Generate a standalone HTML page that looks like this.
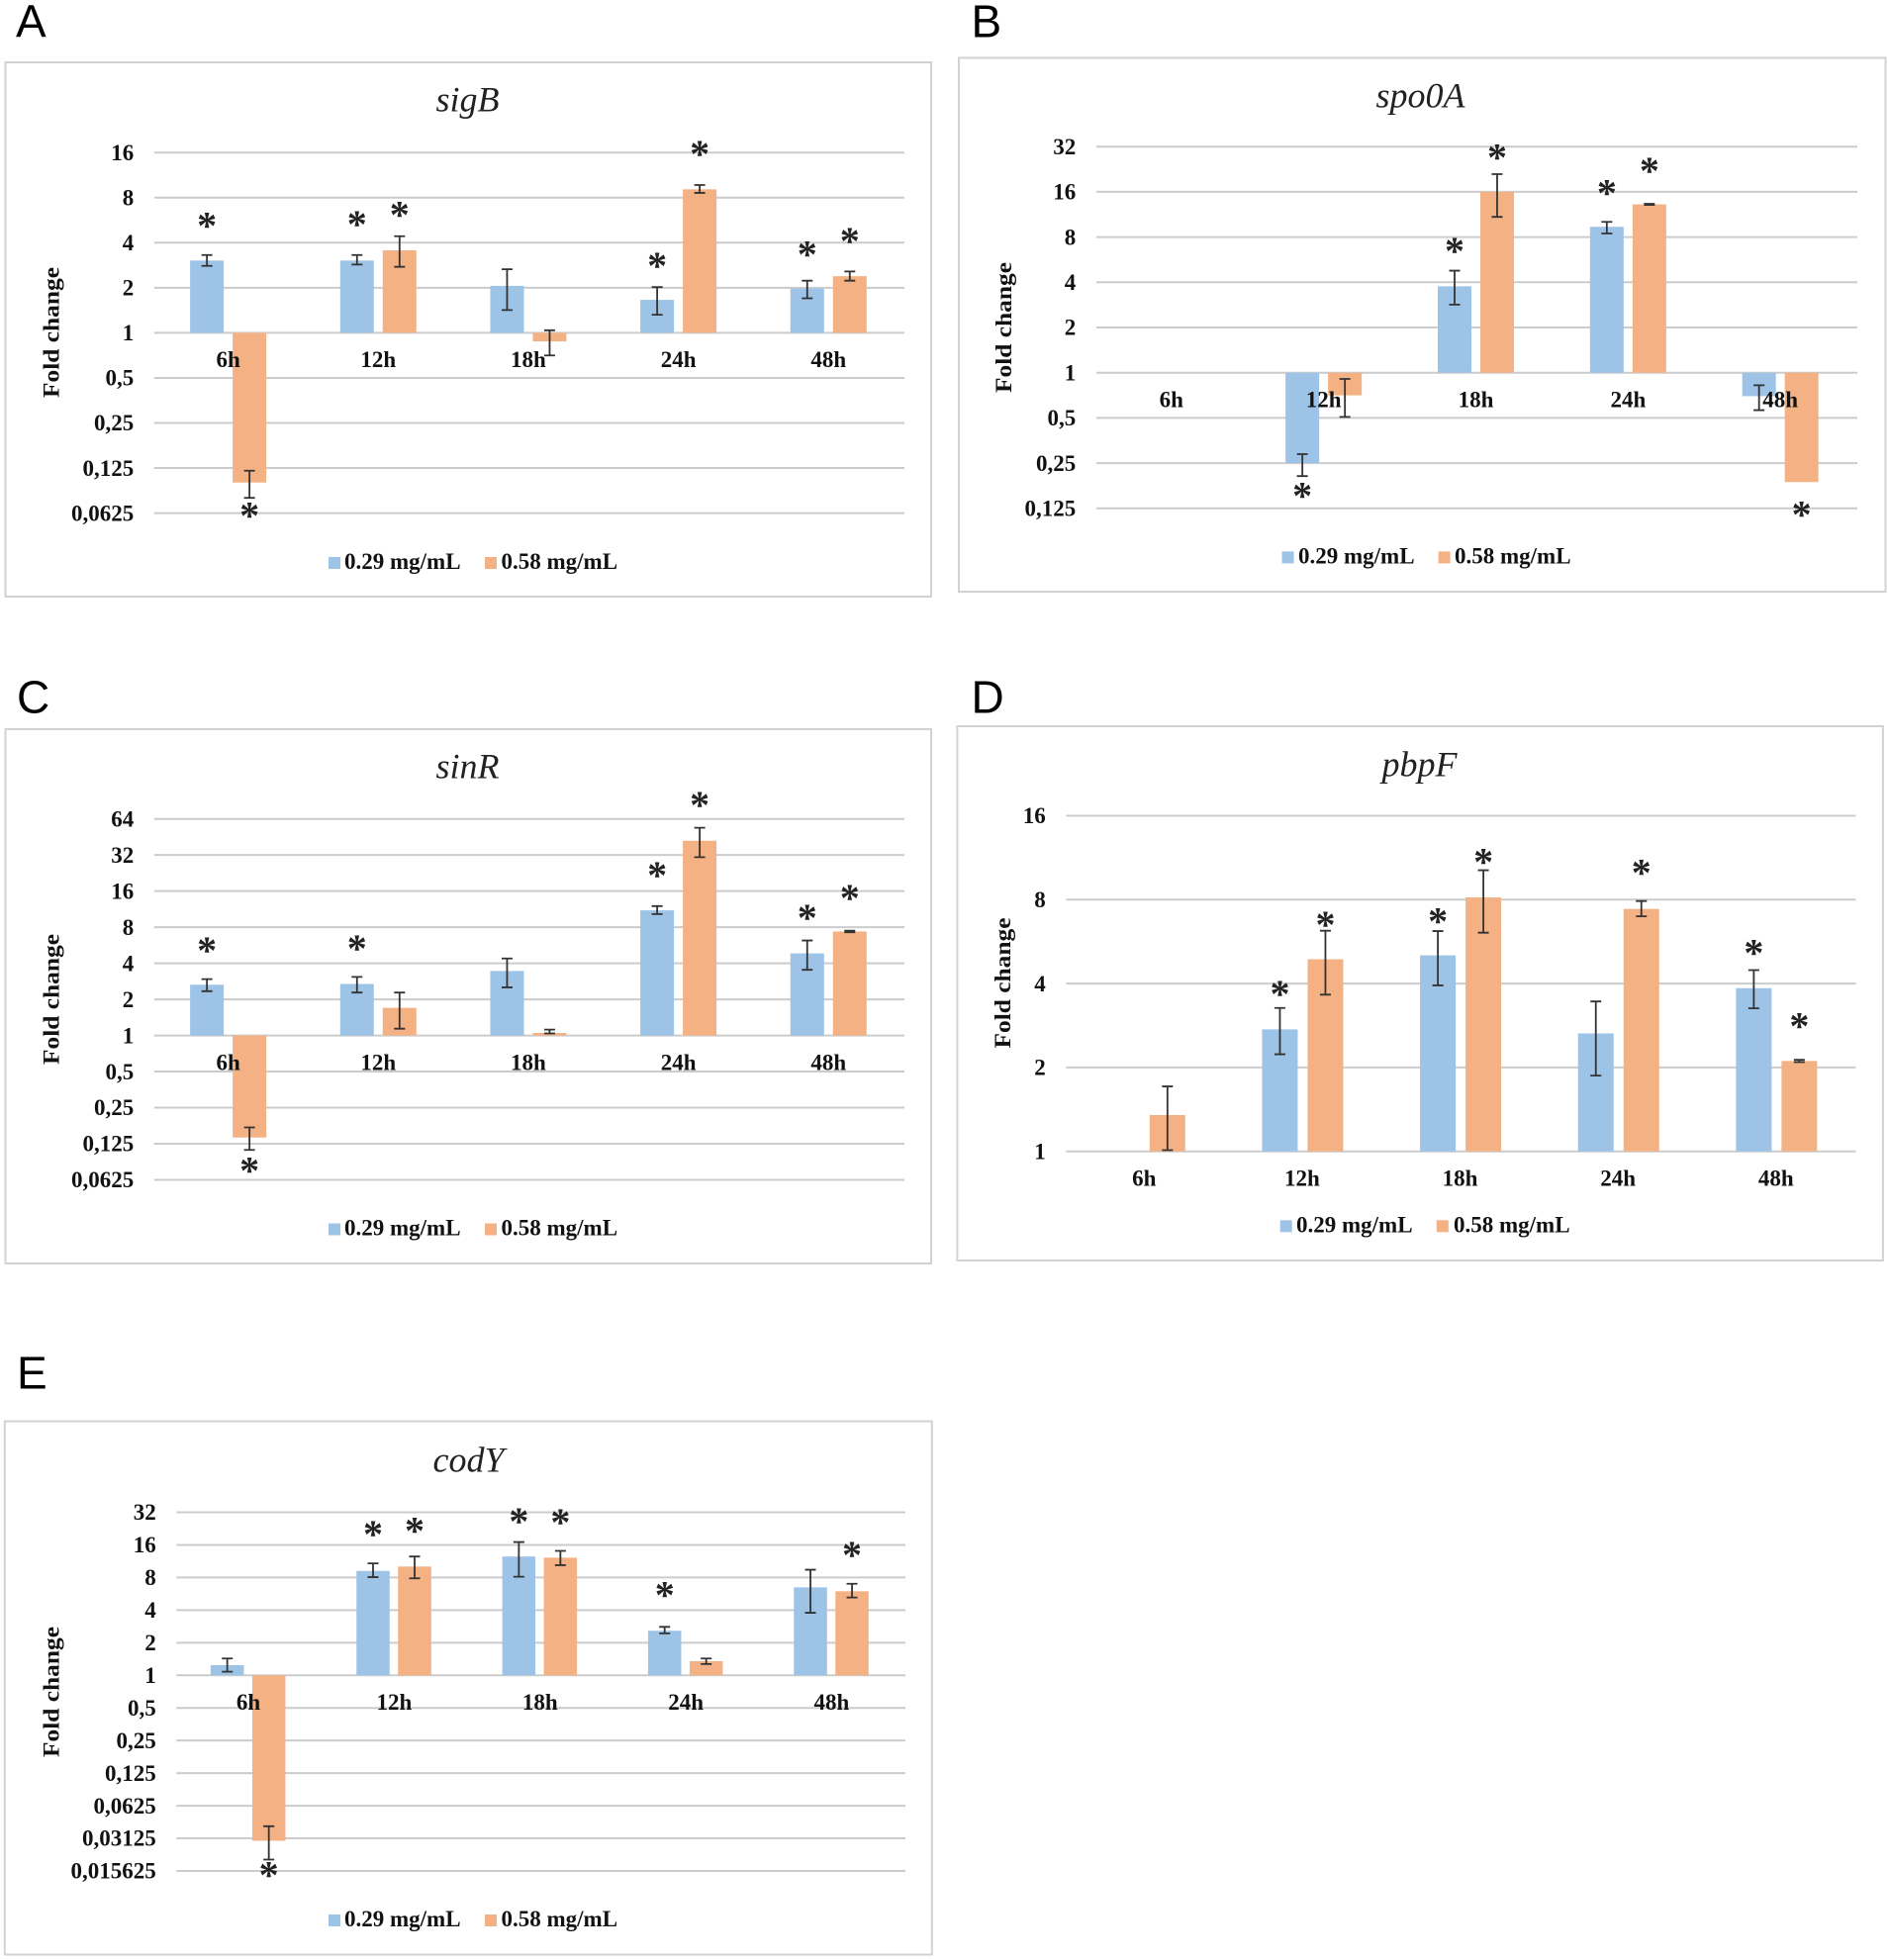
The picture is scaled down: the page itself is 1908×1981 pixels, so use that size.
<!DOCTYPE html>
<html lang="en">
<head>
<meta charset="utf-8">
<title>Fold change of gene expression</title>
<style>
html,body{margin:0;padding:0;background:#fff}
svg{display:block}
text{font-family:"Liberation Serif",serif;fill:#111}
.tick,.cat,.leg{font-weight:bold;font-size:23px}
.ttl{font-style:italic;font-size:36px;fill:#222}
.yt{font-weight:bold;font-size:23px}
.letter{font-family:"Liberation Sans",sans-serif;font-size:46px;fill:#000}
.star{font-weight:bold;font-size:40px;fill:#222}
</style>
</head>
<body>
<svg id="fig" width="1908" height="1981" viewBox="0 0 1908 1981" xmlns="http://www.w3.org/2000/svg"></svg>
<script>
/* ---------- shared data ---------- */
const categories = ['6h', '12h', '18h', '24h', '48h'];
const seriesNames = ['0.29 mg/mL', '0.58 mg/mL'];
const yAxisTitle = 'Fold change';

/* ---------- sigB ---------- */
const sigBTicks = ['16', '8', '4', '2', '1', '0,5', '0,25', '0,125', '0,0625'];
const sigBLow = [3.04, 3.04, 2.06, 1.66, 1.98];
const sigBLowUpper = [3.31, 3.31, 2.66, 2.02, 2.23];
const sigBLowLower = [2.80, 2.86, 1.42, 1.32, 1.70];
const sigBLowStar = [5.6, 5.76, null, 3.04, 3.62];
const sigBHigh = [0.100, 3.56, 0.877, 9.09, 2.39];
const sigBHighUpper = [0.120, 4.42, 1.04, 9.71, 2.57];
const sigBHighLower = [0.079, 2.76, 0.706, 8.61, 2.23];
const sigBHighStar = [0.065, 6.65, null, 16.9, 4.44];

/* ---------- spo0A ---------- */
const spo0ATicks = ['32', '16', '8', '4', '2', '1', '0,5', '0,25', '0,125'];
const spo0ALow = [null, 0.25, 3.76, 9.36, 0.698];
const spo0ALowUpper = [null, 0.287, 4.78, 10.1, 0.825];
const spo0ALowLower = [null, 0.205, 2.84, 8.45, 0.563];
const spo0ALowStar = [null, 0.164, 6.98, 17.0, null];
const spo0AHigh = [null, 0.707, 16, 13.2, 0.187];
const spo0AHighUpper = [null, 0.909, 21.0, 13.3, null];
const spo0AHighLower = [null, 0.508, 10.9, 13.1, null];
const spo0AHighStar = [null, null, 29.2, 23.9, 0.123];

/* ---------- sinR ---------- */
const sinRTicks = ['64', '32', '16', '8', '4', '2', '1', '0,5', '0,25', '0,125', '0,0625'];
const sinRLow = [2.65, 2.69, 3.45, 11.06, 4.84];
const sinRLowUpper = [2.95, 3.08, 4.39, 12.0, 6.20];
const sinRLowLower = [2.34, 2.28, 2.52, 10.3, 3.53];
const sinRLowStar = [5.62, 5.84, null, 24, 10.6];
const sinRHigh = [0.141, 1.70, 1.05, 42.1, 7.37];
const sinRHighUpper = [0.171, 2.28, 1.12, 54.0, 7.48];
const sinRHighLower = [0.111, 1.14, 1.04, 30.7, 7.26];
const sinRHighStar = [0.082, null, null, 92.6, 15.5];

/* ---------- pbpF ---------- */
const pbpFTicks = ['16', '8', '4', '2', '1'];
const pbpFLow = [null, 2.74, 5.05, 2.65, 3.85];
const pbpFLowUpper = [null, 3.27, 6.17, 3.45, 4.47];
const pbpFLowLower = [null, 2.23, 3.94, 1.87, 3.26];
const pbpFLowStar = [null, 3.82, 6.97, null, 5.37];
const pbpFHigh = [1.35, 4.89, 8.15, 7.41, 2.11];
const pbpFHighUpper = [1.71, 6.19, 10.2, 7.91, 2.13];
const pbpFHighLower = [1.01, 3.65, 6.09, 6.97, 2.09];
const pbpFHighStar = [null, 6.78, 11.4, 10.4, 2.94];

/* ---------- codY ---------- */
const codYTicks = ['32', '16', '8', '4', '2', '1', '0,5', '0,25', '0,125', '0,0625', '0,03125', '0,015625'];
const codYLow = [1.24, 9.21, 12.5, 2.58, 6.49];
const codYLowUpper = [1.43, 10.8, 17.0, 2.80, 9.44];
const codYLowLower = [1.08, 8.06, 8.13, 2.44, 3.78];
const codYLowStar = [null, 22.4, 29.3, 6.13, null];
const codYHigh = [0.0297, 10.1, 12.2, 1.35, 5.97];
const codYHighUpper = [0.0404, 12.5, 14.1, 1.43, 7.0];
const codYHighLower = [0.0199, 7.86, 10.4, 1.27, 5.23];
const codYHighStar = [0.0160, 24.2, 28.8, null, 14.4];

/* ---------- layout (not data) ---------- */
const panels = [
  {letter:'A', lx:17, ly:37.5, gene:'sigB', fx:5.5, fy:63, fw:935.5, fh:540,
   px:155.7, pr:914, pt:154.2, pb:518.6, bw:34, gap:9, shift:0,
   tx:472.5, ty:112.5, yx:52.5, yy:336, leg:[332, 348, 490, 506.5], legY:575,
   ticks:sigBTicks, low:sigBLow, lowU:sigBLowUpper, lowL:sigBLowLower, lowS:sigBLowStar,
   high:sigBHigh, highU:sigBHighUpper, highL:sigBHighLower, highS:sigBHighStar},
  {letter:'B', lx:982.5, ly:37.5, gene:'spo0A', fx:969, fy:58.5, fw:936.5, fh:539.5,
   px:1107.8, pr:1877, pt:148.2, pb:513.8, bw:34, gap:9, shift:0,
   tx:1435.5, ty:108.5, yx:1015, yy:331, leg:[1295.5, 1312, 1453.6, 1470], legY:569.4,
   ticks:spo0ATicks, low:spo0ALow, lowU:spo0ALowUpper, lowL:spo0ALowLower, lowS:spo0ALowStar,
   high:spo0AHigh, highU:spo0AHighUpper, highL:spo0AHighLower, highS:spo0AHighStar},
  {letter:'C', lx:18, ly:720.6, gene:'sinR', fx:5.5, fy:737, fw:935.5, fh:540,
   px:155.7, pr:914, pt:827.7, pb:1192.5, bw:34, gap:9, shift:0,
   tx:472.5, ty:786.5, yx:52.5, yy:1010, leg:[332, 348, 490, 506.5], legY:1248.5,
   ticks:sinRTicks, low:sinRLow, lowU:sinRLowUpper, lowL:sinRLowLower, lowS:sinRLowStar,
   high:sinRHigh, highU:sinRHighUpper, highL:sinRHighLower, highS:sinRHighStar},
  {letter:'D', lx:982.5, ly:720.6, gene:'pbpF', fx:967.4, fy:734, fw:935.5, fh:540,
   px:1077.3, pr:1875.5, pt:824.5, pb:1163.7, bw:36, gap:10, shift:0.6,
   tx:1434.5, ty:784.5, yx:1014, yy:993.5, leg:[1293.7, 1310, 1451.8, 1469], legY:1245.3,
   ticks:pbpFTicks, low:pbpFLow, lowU:pbpFLowUpper, lowL:pbpFLowLower, lowS:pbpFLowStar,
   high:pbpFHigh, highU:pbpFHighUpper, highL:pbpFHighLower, highS:pbpFHighStar},
  {letter:'E', lx:18, ly:1403.7, gene:'codY', fx:4.8, fy:1436.5, fw:937, fh:539,
   px:178.3, pr:915, pt:1528.5, pb:1891, bw:33.5, gap:8.5, shift:-0.4,
   tx:473.5, ty:1487.5, yx:52.5, yy:1710, leg:[332, 348, 490, 506.5], legY:1947,
   ticks:codYTicks, low:codYLow, lowU:codYLowUpper, lowL:codYLowLower, lowS:codYLowStar,
   high:codYHigh, highU:codYHighUpper, highL:codYHighLower, highS:codYHighStar}
];

const LOW_COLOR = '#9DC3E6';
const HIGH_COLOR = '#F4B183';
const NS = 'http://www.w3.org/2000/svg';
const fig = document.getElementById('fig');

function node(parent, tag, attrs, text) {
  const el = document.createElementNS(NS, tag);
  for (const k in attrs) el.setAttribute(k, attrs[k]);
  if (text !== undefined) el.textContent = text;
  parent.appendChild(el);
  return el;
}
function tickValue(label) { return parseFloat(label.replace(',', '.')); }

function drawPanel(p) {
  const g = node(fig, 'g', {});
  
  

  const top = Math.log2(tickValue(p.ticks[0]));
  const bottom = Math.log2(tickValue(p.ticks[p.ticks.length - 1]));
  const yScale = v => p.pt + (top - Math.log2(v)) / (top - bottom) * (p.pb - p.pt);
  const catW = (p.pr - p.px) / categories.length;
  const xScale = i => p.px + (i + 0.5) * catW - 0.9;
  const barX = (i, s) => xScale(i) + p.shift + (s === 0 ? -p.gap / 2 - p.bw : p.gap / 2);

  const letter = node(g, 'text', {x:p.lx - 1, y:p.ly, class:'letter'}, p.letter);
  
  

  const frame = node(g, 'rect', {x:p.fx, y:p.fy, width:p.fw, height:p.fh, fill:'#fff', stroke:'#d2d2d2', 'stroke-width':2});
  
  

  const title = node(g, 'text', {x:p.tx, y:p.ty, class:'ttl', 'text-anchor':'middle'}, p.gene);
  
  

  const yTitle = node(g, 'text', {class:'yt', 'text-anchor':'middle', transform:'translate(' + (p.yx + 7) + ' ' + p.yy + ') rotate(-90)', textLength:132, lengthAdjust:'spacingAndGlyphs'}, yAxisTitle);
  
  

  p.ticks.forEach(function (label) {
    const y = yScale(tickValue(label));
    const line = node(g, 'line', {x1:p.px, x2:p.pr, y1:y, y2:y, stroke:'#cccccc', 'stroke-width':2});
    
    
    const t = node(g, 'text', {x:p.px - 20.5, y:y + 7.7, class:'tick', 'text-anchor':'end'}, label);
    
    
  });

  const series = [
    {key:'low', vals:p.low, up:p.lowU, dn:p.lowL, st:p.lowS, color:LOW_COLOR},
    {key:'high', vals:p.high, up:p.highU, dn:p.highL, st:p.highS, color:HIGH_COLOR}
  ];

  series.forEach(function (s, si) {
    s.vals.forEach(function (v, i) {
      if (v === null) return;
      const y0 = yScale(1);
      const yv = yScale(v);
      const bar = node(g, 'rect', {x:barX(i, si), y:Math.min(y0, yv), width:p.bw, height:Math.abs(y0 - yv), fill:s.color});
      
      
    });
  });

  categories.forEach(function (c, i) {
    const t = node(g, 'text', {x:xScale(i), y:yScale(1) + 34.8, class:'cat', 'text-anchor':'middle'}, c);
    
    
  });

  series.forEach(function (s, si) {
    s.vals.forEach(function (v, i) {
      const cx = barX(i, si) + p.bw / 2;
      if (s.up[i] !== null && s.dn[i] !== null) {
        const yu = yScale(s.up[i]);
        const yd = yScale(s.dn[i]);
        const d = 'M' + cx + ' ' + yu + 'V' + yd + 'M' + (cx - 5.5) + ' ' + yu + 'H' + (cx + 5.5) + 'M' + (cx - 5.5) + ' ' + yd + 'H' + (cx + 5.5);
        const err = node(g, 'path', {d:d, fill:'none', stroke:'#333333', 'stroke-width':1.8});
        
        
      }
      if (s.st[i] !== null) {
        const star = node(g, 'text', {x:cx, y:yScale(s.st[i]) + 18.5, class:'star', 'text-anchor':'middle'}, '*');
        
        
      }
    });
  });

  seriesNames.forEach(function (name, i) {
    const sw = node(g, 'rect', {x:p.leg[i * 2], y:p.legY - 12, width:12, height:12, fill:i === 0 ? LOW_COLOR : HIGH_COLOR});
    
    
    const t = node(g, 'text', {x:p.leg[i * 2 + 1], y:p.legY, class:'leg'}, name);
    
    
  });
}
panels.forEach(drawPanel);
</script>
</body>
</html>
